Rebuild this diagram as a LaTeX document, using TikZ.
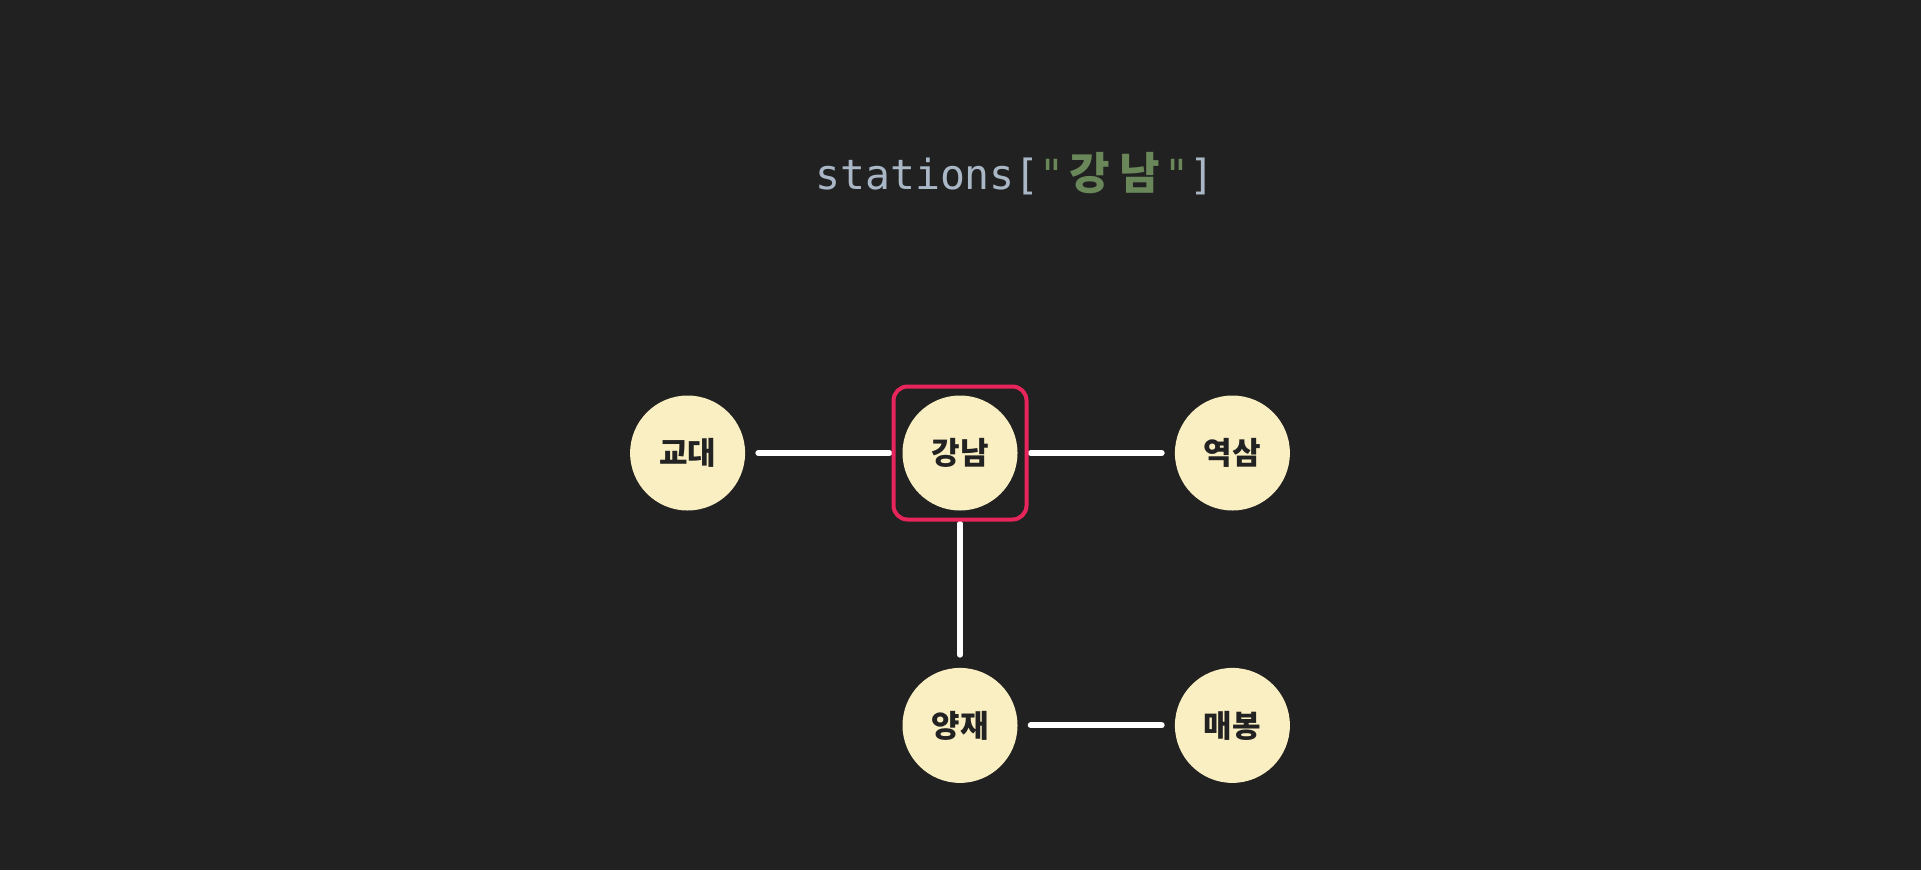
\documentclass[tikz,border=0pt]{standalone}
\usepackage{fontspec}
\setmonofont{DejaVu Sans Mono}
\newfontfamily\krfont{Noto Sans CJK KR}
\usetikzlibrary{positioning}

\definecolor{bgdark}{HTML}{212121}
\definecolor{stationfill}{HTML}{F9EFC2}
\definecolor{stationtext}{HTML}{222222}
\definecolor{pickred}{HTML}{E8255A}
\definecolor{codegray}{HTML}{A9B7C6}
\definecolor{codegreen}{HTML}{6A8759}

% two-column cell for a hangul glyph in the mono title
\newcommand{\krcell}[1]{\makebox[50pt]{\krfont\bfseries\fontsize{44}{44}\selectfont #1}}

\begin{document}
\begin{tikzpicture}[x=1pt, y=1pt, node distance=157pt,
  every node/.style = {inner sep=0pt},
  station/.style = {shape=circle, minimum size=115pt, fill=stationfill,
    text=stationtext, font={\krfont\bfseries\fontsize{31}{31}\selectfont}},
  link/.style = {draw=white, line width=6pt, line cap=round,
    shorten <=13pt, shorten >=13pt},
  pick/.style = {shape=rectangle, minimum size=133pt, rounded corners=14pt,
    draw=pickred, line width=4pt}]

% Background and page size
\fill[bgdark] (0,0) rectangle (1921,-870);
\useasboundingbox (0,0) rectangle (1921,-870);

% Lookup expression
\node[anchor=base, text=codegray, font={\ttfamily\fontsize{41.5}{42}\selectfont}]
  (lookup) at (1015,-189)
  {stations[{\color{codegreen}"\krcell{강}\krcell{남}"}]};

% Stations
\node[station] (gangnam) at (960,-453) {강남};
\node[station, left=of gangnam] (gyodae) {교대};
\node[station, right=of gangnam] (yeoksam) {역삼};
\node[station, below=of gangnam] (yangjae) {양재};
\node[station, right=of yangjae] (maebong) {매봉};

% Connections
\draw[link] (gyodae) -- (gangnam);
\draw[link] (gangnam) -- (yeoksam);
\draw[link] (gangnam) -- (yangjae);
\draw[link] (yangjae) -- (maebong);

% Selected station
\node[pick] (picked) at (gangnam.center) {};
\end{tikzpicture}
\end{document}
